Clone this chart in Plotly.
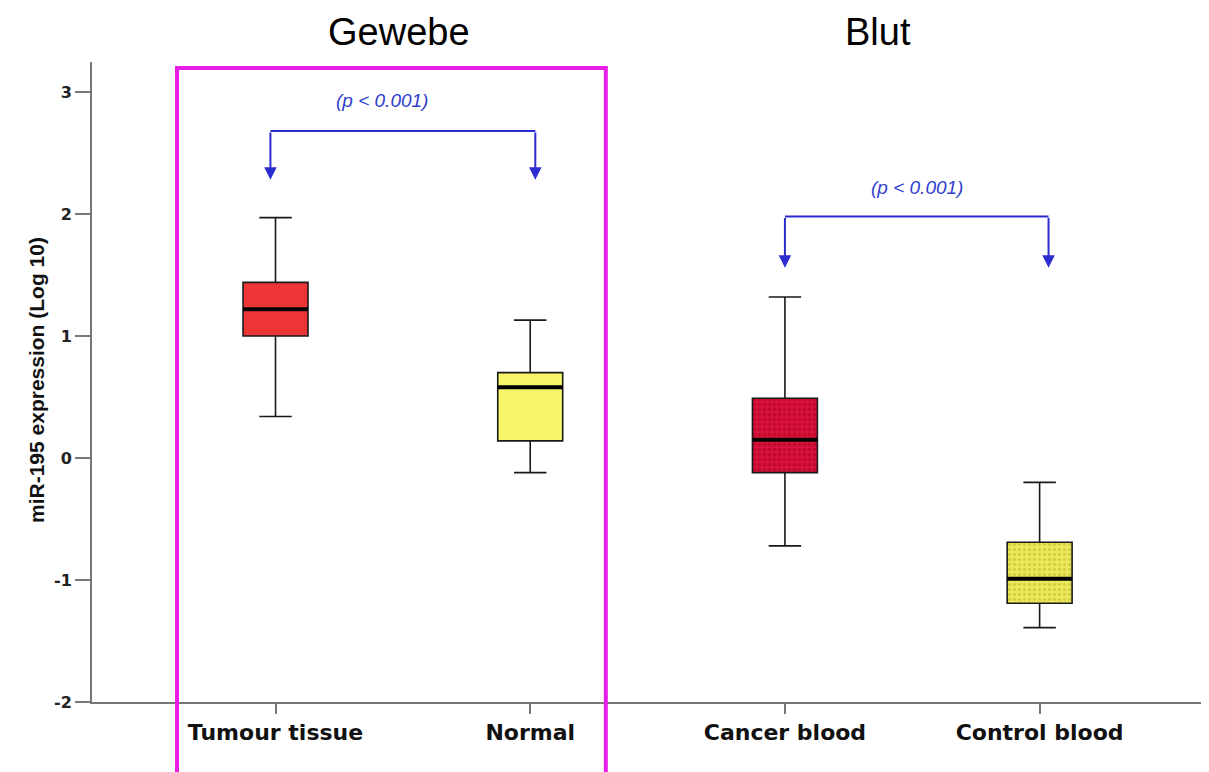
import plotly.graph_objects as go

# ---- data ----
categories = ["Tumour tissue", "Normal", "Cancer blood", "Control blood"]
upper_whisker = [1.97, 1.13, 1.32, -0.20]
q3_values = [1.44, 0.70, 0.49, -0.69]
median_values = [1.22, 0.58, 0.15, -0.99]
q1_values = [1.00, 0.14, -0.12, -1.19]
lower_whisker = [0.34, -0.12, -0.72, -1.39]
fill_colors = ["#EE3535", "#F6F46A", "#D8123A", "#ECEA5C"]
dot_colors = [None, None, "#A8001E", "#BDB82A"]
y_ticks = [3, 2, 1, 0, -1, -2]
group_titles = ["Gewebe", "Blut"]
p_text = "(p &lt; 0.001)"

BOX_W = 0.255
BLUE = "#2C2CD0"

fig = go.Figure()

# patterned fills for the blood groups (drawn beneath the box outlines)
for i, cat in enumerate(categories):
    if dot_colors[i] is None:
        continue
    fig.add_trace(go.Bar(
        x=[cat], y=[q3_values[i] - q1_values[i]], base=[q1_values[i]],
        width=BOX_W,
        marker=dict(color=fill_colors[i], line=dict(width=0),
                    pattern=dict(shape=".", size=5, solidity=0.35,
                                 fgcolor=dot_colors[i], bgcolor=fill_colors[i])),
        showlegend=False, hoverinfo="skip"))

for i, cat in enumerate(categories):
    fill = fill_colors[i] if dot_colors[i] is None else "rgba(0,0,0,0)"
    fig.add_trace(go.Box(
        x=[cat], q1=[q1_values[i]], median=[median_values[i]], q3=[q3_values[i]],
        lowerfence=[lower_whisker[i]], upperfence=[upper_whisker[i]],
        width=BOX_W, whiskerwidth=0.5, fillcolor=fill,
        line=dict(color="#1a1a1a", width=1.6),
        boxpoints=False, showlegend=False, name=cat))

shapes = []
# thick median lines
for i, m in enumerate(median_values):
    shapes.append(dict(type="line", xref="x", yref="y",
                       x0=i - BOX_W / 2, x1=i + BOX_W / 2, y0=m, y1=m,
                       line=dict(color="#000000", width=4)))

# significance brackets: (left x, right x, bar y, arrow tip y, text y, text x shift)
brackets = [(-0.02, 1.02, 2.68, 2.28, 2.93, -0.08),
            (2.0, 3.035, 1.98, 1.56, 2.22, 0.0)]
annotations = []
for x0, x1, ytop, ytip, ytext, dx in brackets:
    shapes.append(dict(type="line", xref="x", yref="y", x0=x0, x1=x1, y0=ytop, y1=ytop,
                       line=dict(color=BLUE, width=2)))
    for xx in (x0, x1):
        annotations.append(dict(x=xx, y=ytip, ax=xx, ay=ytop, xref="x", yref="y",
                                axref="x", ayref="y", showarrow=True, arrowhead=2,
                                arrowsize=1.25, arrowwidth=2, arrowcolor=BLUE, text=""))
    annotations.append(dict(x=(x0 + x1) / 2 + dx, y=ytext, xref="x", yref="y",
                            showarrow=False, text="<i>" + p_text + "</i>",
                            font=dict(family="Liberation Sans, Arial", size=19, color="#3040CC")))

# magenta frame around tissue group
shapes.append(dict(type="rect", xref="paper", yref="paper",
                   x0=0.0761, x1=0.460, y0=-0.15, y1=0.9906,
                   line=dict(color="#E81EE8", width=4), fillcolor="rgba(0,0,0,0)"))

# group titles
for t, xc in zip(group_titles, [0.275, 0.704]):
    annotations.append(dict(text=t, xref="paper", yref="paper", x=xc, y=1.0 + 30 / 640,
                            showarrow=False, yanchor="middle", xanchor="center",
                            font=dict(family="Liberation Sans, Arial", size=38, color="#000")))

# y axis title
annotations.append(dict(text="<b>miR-195 expression (Log 10)</b>", xref="paper", yref="paper",
                        x=(36 - 92) / 1117, y=(702 - 380) / 640, textangle=-90,
                        showarrow=False, xanchor="center", yanchor="middle",
                        font=dict(family="Liberation Sans, Arial", size=21, color="#111")))

fig.update_layout(
    width=1209, height=772,
    margin=dict(l=84, r=8, t=54, b=78),
    paper_bgcolor="white", plot_bgcolor="white",
    barmode="overlay", boxmode="overlay",
    shapes=shapes, annotations=annotations,
    xaxis=dict(type="category", categoryorder="array", categoryarray=categories,
               range=[-0.7205, 3.665], showgrid=False, zeroline=False,
               showline=True, linecolor="#777", linewidth=2,
               ticks="outside", ticklen=10, tickwidth=1.5, tickcolor="#777",
               tickfont=dict(family="DejaVu Sans", size=22, color="#111", weight="bold")),
    yaxis=dict(range=[-2, 3.246], tickvals=y_ticks, ticktext=[str(v) for v in y_ticks],
               showgrid=False, zeroline=False, showline=True, linecolor="#777", linewidth=2,
               ticks="outside", ticklen=15, tickwidth=1.5, tickcolor="#777",
               tickfont=dict(family="DejaVu Sans", size=16, color="#222", weight="bold")),
)

fig.write_html("out.html")
